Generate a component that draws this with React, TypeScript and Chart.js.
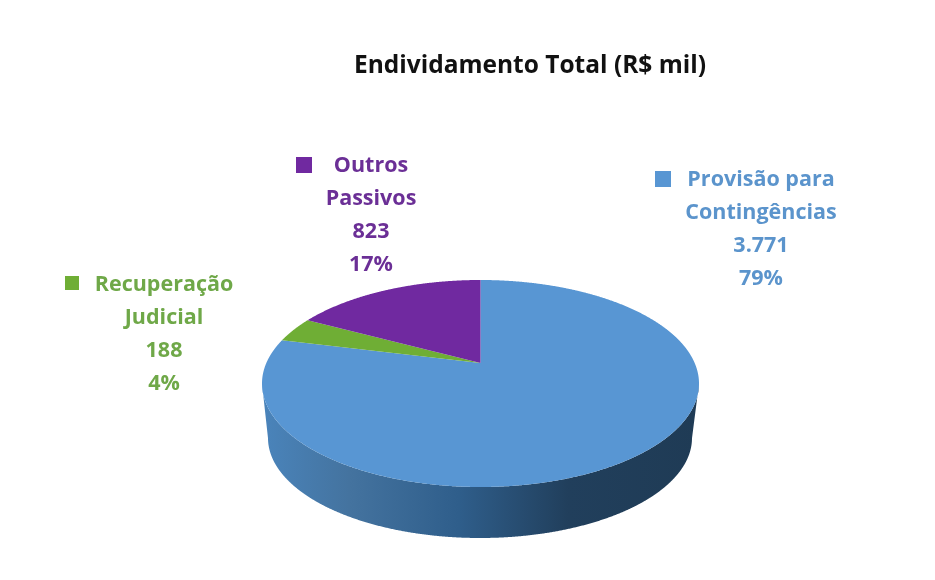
import React, { useEffect, useRef } from "react";
import { Chart, registerables } from "chart.js";

Chart.register(...registerables);

const categories = ["Provisão para Contingências", "Recuperação Judicial", "Outros Passivos"];
const categoryLines = [["Provisão para", "Contingências"], ["Recuperação", "Judicial"], ["Outros", "Passivos"]];
const values = [3771, 188, 823];
const colors = ["#5896d3", "#6fae35", "#7029a0"];
const labelColors = ["#5b94cc", "#6fa848", "#6b2f96"];
const titleText = "Endividamento Total (R$ mil)";

// layout of the outside labels: text centre x, first-line centre y, key square x, y
const labelLayout = [
  { cx: 761, y: 180, kx: 655, ky: 171, ks: 16 },
  { cx: 164, y: 285, kx: 65, ky: 276, ks: 14 },
  { cx: 371, y: 166, kx: 296, ky: 157, ks: 16 },
];
const lineHeight = 32.8;
const labelFont = "bold 21.5px 'Open Sans', sans-serif";

// perspective projection of the disc
const TOP = { cx: 480.5, cy: 383.5, rx: 218.5, ry: 103.5 };
const BOTTOM = { cx: 480, cy: 438, rx: 212, ry: 100 };
const APEX = -0.198;

function project(theta: number) {
  const u = Math.sin(theta);
  const v = -Math.cos(theta);
  const den = 1 + APEX * v;
  return { p: (u * Math.sqrt(1 - APEX * APEX)) / den, q: (v + APEX) / den };
}
const onEllipse = (e: typeof TOP, pt: { p: number; q: number }) => ({
  x: e.cx + pt.p * e.rx,
  y: e.cy + pt.q * e.ry,
});

const pie3d = {
  id: "pie3d",
  beforeDatasetDraw(chart: any, args: any) {
    const ctx: CanvasRenderingContext2D = chart.ctx;
    const arcs = args.meta.data;
    ctx.save();
    // side wall: the part of each slice that lies on the near half of the rim
    arcs.forEach((arc: any) => {
      const start = arc.startAngle + Math.PI / 2;
      const end = arc.endAngle + Math.PI / 2;
      const pts: { p: number; q: number }[] = [];
      const n = Math.ceil((end - start) / 0.004);
      for (let i = 0; i <= n; i++) {
        const pt = project(start + ((end - start) * i) / n);
        if (pt.q >= 0) pts.push(pt);
      }
      if (pts.length < 2) return;
      const g = ctx.createLinearGradient(TOP.cx - TOP.rx, 0, TOP.cx + TOP.rx, 0);
      g.addColorStop(0, "#4a84bb");
      g.addColorStop(0.2, "#44739f");
      g.addColorStop(0.45, "#2f5e8b");
      g.addColorStop(0.7, "#213f5c");
      g.addColorStop(1, "#1f3b55");
      ctx.beginPath();
      pts.forEach((pt, i) => {
        const a = onEllipse(TOP, pt);
        if (i === 0) ctx.moveTo(a.x, a.y);
        else ctx.lineTo(a.x, a.y);
      });
      [...pts].reverse().forEach((pt) => {
        const b = onEllipse(BOTTOM, pt);
        ctx.lineTo(b.x, b.y);
      });
      ctx.closePath();
      ctx.fillStyle = g;
      ctx.fill();
    });
    // top surface
    arcs.forEach((arc: any) => {
      const start = arc.startAngle + Math.PI / 2;
      const end = arc.endAngle + Math.PI / 2;
      const n = Math.ceil((end - start) / 0.004);
      const apex = onEllipse(TOP, { p: 0, q: APEX });
      ctx.beginPath();
      ctx.moveTo(apex.x, apex.y);
      for (let i = 0; i <= n; i++) {
        const a = onEllipse(TOP, project(start + ((end - start) * i) / n));
        ctx.lineTo(a.x, a.y);
      }
      ctx.closePath();
      ctx.fillStyle = arc.options.backgroundColor;
      ctx.fill();
    });
    ctx.restore();
    return false;
  },
  afterDraw(chart: any) {
    const ctx: CanvasRenderingContext2D = chart.ctx;
    const data: number[] = chart.data.datasets[0].data;
    const total = data.reduce((a, b) => a + b, 0);
    ctx.save();
    ctx.font = labelFont;
    ctx.textAlign = "center";
    ctx.textBaseline = "middle";
    data.forEach((v, i) => {
      const l = labelLayout[i];
      const lines = [
        ...categoryLines[i],
        v.toLocaleString("pt-BR"),
        `${Math.round((v / total) * 100)}%`,
      ];
      ctx.fillStyle = labelColors[i];
      lines.forEach((t, k) => ctx.fillText(t, l.cx, l.y + k * lineHeight));
      ctx.fillStyle = colors[i];
      ctx.fillRect(l.kx, l.ky, l.ks, l.ks);
    });
    ctx.restore();
  },
};

export default function App() {
  const ref = useRef<HTMLCanvasElement | null>(null);
  useEffect(() => {
    document.body.style.margin = "0";
    document.body.style.background = "#ffffff";
    const chart = new Chart(ref.current as HTMLCanvasElement, {
      type: "pie",
      data: {
        labels: categories,
        datasets: [{ data: values, backgroundColor: colors, borderWidth: 0 }],
      },
      options: {
        responsive: false,
        animation: false,
        layout: { padding: { left: 125, top: 0 } },
        plugins: {
          legend: { display: false },
          tooltip: { enabled: false },
          title: {
            display: true,
            text: titleText,
            color: "#111111",
            fullSize: false,
            padding: { top: 51, bottom: 10 },
            font: { family: "'Open Sans', sans-serif", size: 24.5, weight: "bold" },
          },
        },
      },
      plugins: [pie3d],
    } as any);
    return () => chart.destroy();
  }, []);
  return <canvas ref={ref} width={935} height={580} style={{ display: "block", filter: "blur(0.4px)" }} />;
}
